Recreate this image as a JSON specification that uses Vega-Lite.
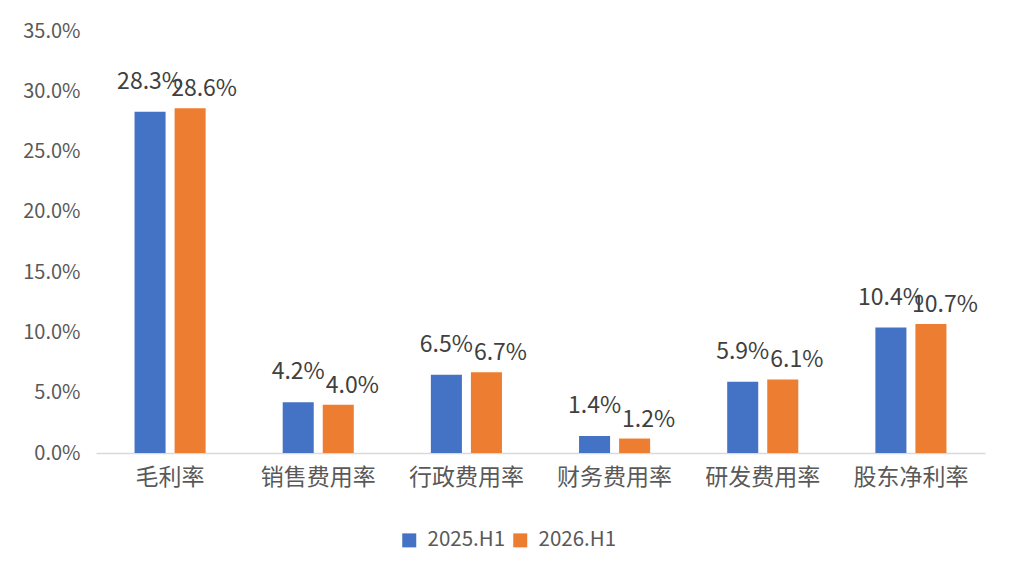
{
  "$schema": "https://vega.github.io/schema/vega-lite/v6.json",
  "autosize": {"type": "none"},
  "padding": {"left": 96, "top": 31, "right": 31, "bottom": 125},
  "width": 889,
  "height": 422,
  "background": "white",
  "config": {
    "view": {"stroke": null},
    "font": "Noto Sans CJK SC"
  },
  "data": {
    "values": [
      {"item": "毛利率", "period": "2025.H1", "rate": 0.283},
      {"item": "毛利率", "period": "2026.H1", "rate": 0.286},
      {"item": "销售费用率", "period": "2025.H1", "rate": 0.042},
      {"item": "销售费用率", "period": "2026.H1", "rate": 0.040},
      {"item": "行政费用率", "period": "2025.H1", "rate": 0.065},
      {"item": "行政费用率", "period": "2026.H1", "rate": 0.067},
      {"item": "财务费用率", "period": "2025.H1", "rate": 0.014},
      {"item": "财务费用率", "period": "2026.H1", "rate": 0.012},
      {"item": "研发费用率", "period": "2025.H1", "rate": 0.059},
      {"item": "研发费用率", "period": "2026.H1", "rate": 0.061},
      {"item": "股东净利率", "period": "2025.H1", "rate": 0.104},
      {"item": "股东净利率", "period": "2026.H1", "rate": 0.107}
    ]
  },
  "encoding": {
    "x": {
      "field": "item",
      "type": "nominal",
      "sort": null,
      "title": null,
      "scale": {"paddingInner": 0, "paddingOuter": 0},
      "axis": {
        "labelAngle": 0,
        "labelFontSize": 23,
        "labelColor": "#595959",
        "labelPadding": 13,
        "ticks": false,
        "domainColor": "#d9d9d9",
        "domainWidth": 1.5,
        "grid": false
      }
    },
    "xOffset": {
      "field": "period",
      "type": "nominal",
      "scale": {"paddingInner": 0.225, "paddingOuter": 0.9625}
    },
    "y": {
      "field": "rate",
      "type": "quantitative",
      "title": null,
      "scale": {"domain": [0, 0.35], "nice": false},
      "axis": {
        "format": ".1%",
        "values": [0, 0.05, 0.1, 0.15, 0.2, 0.25, 0.3, 0.35],
        "labelFontSize": 20,
        "labelColor": "#595959",
        "labelPadding": 16,
        "ticks": false,
        "domain": false,
        "grid": false
      }
    }
  },
  "layer": [
    {
      "mark": {"type": "bar"},
      "encoding": {
        "color": {
          "field": "period",
          "type": "nominal",
          "title": null,
          "scale": {"domain": ["2025.H1", "2026.H1"], "range": ["#4472C4", "#ED7D31"]},
          "legend": {
            "orient": "none",
            "direction": "horizontal",
            "legendX": 303,
            "legendY": 499,
            "symbolType": "square",
            "symbolSize": 196,
            "symbolStrokeWidth": 0,
            "labelFontSize": 20.5,
            "labelColor": "#595959",
            "labelOffset": 8,
            "columnPadding": 4,
            "padding": 0
          }
        }
      }
    },
    {
      "transform": [{"filter": "datum.period === '2025.H1'"}],
      "mark": {"type": "text", "fontSize": 23, "color": "#404040", "baseline": "middle", "dy": -30},
      "encoding": {
        "text": {"field": "rate", "type": "quantitative", "format": ".1%"}
      }
    },
    {
      "transform": [{"filter": "datum.period === '2026.H1'"}],
      "mark": {"type": "text", "fontSize": 23, "color": "#404040", "baseline": "middle", "dy": -19, "dx": 14},
      "encoding": {
        "text": {"field": "rate", "type": "quantitative", "format": ".1%"}
      }
    }
  ]
}
